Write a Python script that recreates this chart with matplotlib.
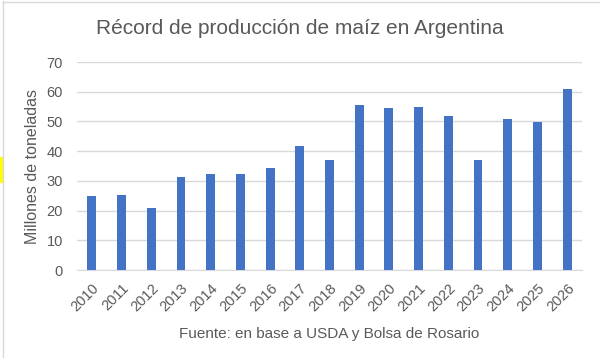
import matplotlib.pyplot as plt
import matplotlib as mpl
from matplotlib.lines import Line2D
from matplotlib.patches import Rectangle

mpl.rcParams.update({
    "font.family": ["Liberation Sans", "DejaVu Sans"],
})

years = [str(y) for y in range(2010, 2027)]
produccion = [25.0, 25.3, 20.9, 31.3, 32.4, 32.4, 34.4, 41.8, 37.1,
              55.6, 54.6, 54.9, 51.9, 37.1, 50.9, 49.9, 61.0]
y_ticks = [0, 10, 20, 30, 40, 50, 60, 70]

TEXT = "#595959"
BAR = "#4472c4"
GRID = "#d9d9d9"

fig = plt.figure(figsize=(6.0, 3.58), dpi=100)
ax = fig.add_axes([77 / 600, 1 - 270 / 358, 505 / 600, 208 / 358])

x = range(len(years))
ax.bar(x, produccion, width=0.3, color=BAR, zorder=3)

ax.set_xlim(-0.5, len(years) - 0.5)
ax.set_ylim(0, 70)
ax.set_yticks(y_ticks)
ax.set_xticks(list(x))
ax.set_xticklabels(years, rotation=45, ha="right", rotation_mode="anchor")
ax.tick_params(axis="both", length=0, colors=TEXT, labelsize=10.5)
ax.tick_params(axis="y", pad=10)
ax.tick_params(axis="x", pad=8)
ax.grid(axis="y", color=GRID, linewidth=1, zorder=0)
for s in ["top", "right", "left"]:
    ax.spines[s].set_visible(False)
ax.spines["bottom"].set_color(GRID)

ax.set_ylabel("Millones de toneladas", color=TEXT, fontsize=11.5, labelpad=5)
ax.set_xlabel("Fuente: en base a USDA y Bolsa de Rosario", color=TEXT,
              fontsize=11, labelpad=9)

fig.text(0.5, 1 - 29 / 358, "Récord de producción de maíz en Argentina",
         ha="center", va="center", color=TEXT, fontsize=15)

# chart frame edges and the small yellow marker on the left
fig.add_artist(Line2D([2.5 / 600, 2.5 / 600], [0, 1 - 1 / 358], color=GRID, lw=1))
fig.add_artist(Line2D([2.5 / 600, 1], [1 - 1.5 / 358, 1 - 1.5 / 358], color=GRID, lw=1))
fig.add_artist(Rectangle((0, 1 - 182 / 358), 2 / 600, 25 / 358,
                         color="#ffff00", transform=fig.transFigure))

fig.savefig("out.png", dpi=100)
